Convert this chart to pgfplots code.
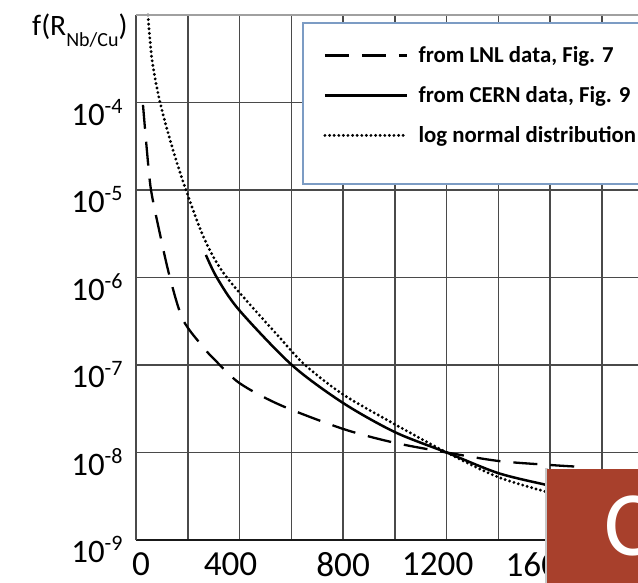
\documentclass[border=0pt]{standalone}
\usepackage{fontspec}
\setmainfont{Carlito}
\usepackage{pgfplots}
\pgfplotsset{compat=1.18}

\definecolor{gridgray}{HTML}{4A4A4A}
\definecolor{framegray}{HTML}{A0A0A0}
\definecolor{legframe}{HTML}{7C9CC4}
\definecolor{titlered}{HTML}{A8402C}

% decade tick label: 10 with a raised exponent
\newcommand{\dec}[1]{10\raisebox{6pt}{\fontsize{11}{11}\selectfont -#1}}

\begin{document}
\begin{tikzpicture}
\useasboundingbox (0,0) rectangle (319pt,291.5pt);
\clip (0,0) rectangle (319pt,291.5pt);
\begin{axis}[
  at={(68pt,21.5pt)}, anchor=south west,
  scale only axis, width=258.9pt, height=262.5pt,
  xmin=0, xmax=2000, ymode=log, ymin=1e-9, ymax=1e-3,
  clip=false,
  axis x line*=bottom, axis y line*=left,
  x axis line style={-, draw=black!90, line width=0.85pt},
  y axis line style={-, draw=gridgray, line width=0.8pt},
  xtick={0,200,...,2000},
  xticklabels={\kern5pt 0,,400\kern9pt,,800,,1200\kern9pt,,1600\kern9pt,,},
  ytick={1e-9,1e-8,1e-7,1e-6,1e-5,1e-4},
  yticklabels={\dec9,\dec8,\dec7,\dec6,\dec5,\dec4},
  major tick length=0pt, minor tick length=0pt,
  grid=major, major grid style={draw=gridgray, line width=0.75pt},
  tick label style={inner sep=0pt},
  xticklabel style={font=\fontsize{17.6}{17.6}\selectfont, anchor=north, yshift=-6pt, text depth=0pt},
  yticklabel style={font=\fontsize{16.4}{16.4}\selectfont, anchor=base east, xshift=-6.5pt, yshift=-11.3pt},
  ylabel={f(R\raisebox{-5.5pt}{\fontsize{10}{10}\selectfont Nb/Cu})},
  every axis y label/.style={at={(rel axis cs:0,1)}, anchor=base east, inner sep=0pt,
    xshift=-4pt, yshift=-10pt, font=\fontsize{14.8}{14.8}\selectfont},
  legend image code/.code={\draw[#1] (0pt,3.5pt) -- (41pt,3.5pt);},
  legend cell align=left,
  legend style={draw=none, fill=none, at={(0.3611,0.941)}, anchor=north west,
    inner sep=0pt, row sep=9pt, column sep=5pt,
    font=\bfseries\fontsize{11.4}{11.4}\selectfont,
    nodes={inner sep=0pt, text height=8pt, text depth=3pt, anchor=base west},
    cells={anchor=base west}},
]
% LNL data (Fig. 7)
\addplot[smooth, black, line width=1.15pt, dash pattern=on 12pt off 6.5pt] coordinates {
  (27,9.4e-5) (42,2.86e-5) (58,1e-5) (93,3.1e-6) (131,1e-6) (182,3.27e-7)
  (263,1.56e-7) (305,1.14e-7) (400,6.2e-8) (556,3.5e-8) (800,1.86e-8)
  (1000,1.29e-8) (1200,1.0e-8) (1400,8.0e-9) (1600,7.2e-9) (1700,6.9e-9)
};
\addlegendentry{from LNL data, Fig. 7}
% CERN data (Fig. 9)
\addplot[smooth, black, line width=1.25pt] coordinates {
  (270,1.81e-6) (313,9.9e-7) (398,4.26e-7) (602,1e-7)
  (800,3.68e-8) (1000,1.71e-8) (1200,1e-8) (1398,5.83e-9)
  (1587,4.25e-9) (1700,3.6e-9)
};
\addlegendentry{from CERN data, Fig. 9}
% log normal distribution
\addplot[smooth, black, line width=1.6pt, line cap=round, dash pattern=on 0pt off 2.3pt] coordinates {
  (46,1e-3) (62,3.06e-4) (93,1e-4) (143,2.86e-5) (193,1e-5) (266,2.68e-6)
  (351,1e-6) (556,2.04e-7) (653,1e-7) (800,4.6e-8)
  (1000,2.1e-8) (1200,1e-8) (1398,5.25e-9) (1587,3.54e-9)
  (1700,2.9e-9)
};
\addlegendentry{log normal distribution}
% top frame and legend box
\draw[framegray, line width=0.6pt] (rel axis cs:0,1) -- (rel axis cs:1,1);
\filldraw[draw=legframe, line width=0.6pt, fill=white]
  (rel axis cs:0.3224,0.9848) rectangle (rel axis cs:1.05,0.678);
\end{axis}
% title block in the lower right corner
\fill[black!22] (272.6pt,0) rectangle (274pt,57.6pt);
\fill[titlered] (273.5pt,0) rectangle (320pt,57pt);
\node[anchor=base west, inner sep=0pt, text=white, font=\fontsize{46}{46}\selectfont]
  at (302pt,13.5pt) {C};
\end{tikzpicture}
\end{document}
